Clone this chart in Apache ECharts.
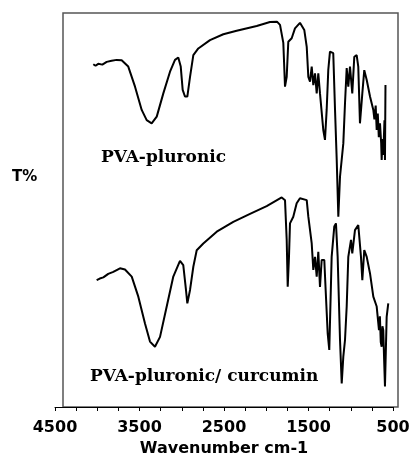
<!DOCTYPE html>
<html>
<head>
<meta charset="utf-8">
<script src="https://cdn.jsdelivr.net/npm/echarts@6/dist/echarts.min.js"></script>
<style>
html,body{margin:0;padding:0;background:#fff;}
#chart{width:419px;height:462px;}
</style>
</head>
<body>
<div id="chart"></div>
<script>
// Wavenumber (cm-1) and transmittance (%)
var wnTop = [4047,4020,3988,3940,3888,3830,3770,3711,3633,3553,3474,3415,3356,3296,3218,3139,3080,3041,3012,2989,2962,2934,2902,2863,2804,2666,2508,2350,2113,1956,1873,1837,1798,1778,1758,1739,1699,1660,1601,1550,1521,1502,1482,1462,1443,1423,1403,1384,1364,1325,1305,1285,1266,1246,1207,1186,1166,1147,1127,1088,1068,1048,1029,1009,982,958,930,911,891,863,840,811,772,733,720,705,693,680,668,654,640,634,625,615,601,595,589];
var tTop  = [87.0,86.6,87.1,86.9,87.6,87.9,88.1,88.0,86.4,81.3,75.4,72.8,72.0,73.7,79.6,85.1,88.1,88.7,86.4,80.5,78.8,78.8,83.8,89.3,91.0,93.1,94.6,95.5,96.7,97.7,97.8,97.0,92.4,81.3,83.8,92.7,93.6,96.1,97.5,95.7,91.4,83.8,82.6,86.4,81.7,84.7,79.6,84.7,79.6,70.3,67.8,75.4,85.5,90.2,89.8,75.4,62.7,48.3,58.5,66.9,77.1,86.0,81.3,86.4,79.6,88.9,89.3,86.4,72.0,79.6,85.5,83.0,78.8,75.4,73.0,76.5,70.3,74.5,68.5,72.0,67.0,62.7,68.0,64.0,72.8,62.7,81.7];

var wnBot = [4007,3970,3928,3870,3810,3731,3672,3592,3514,3435,3376,3317,3257,3178,3100,3021,2982,2950,2934,2902,2863,2823,2745,2586,2390,2192,1995,1817,1778,1758,1746,1731,1719,1680,1640,1601,1521,1502,1462,1443,1423,1403,1384,1364,1344,1313,1297,1273,1254,1226,1195,1175,1155,1127,1107,1088,1068,1048,1029,997,982,950,911,879,863,840,811,772,733,693,666,655,645,634,625,615,605,595,575,556];
var tBot  = [32.2,32.6,32.9,33.8,34.3,35.2,34.9,33.1,28.0,21.2,16.6,15.3,17.8,25.5,33.1,37.1,36.0,29.7,26.3,29.7,35.6,39.8,41.5,44.5,47.0,49.0,51.0,53.2,52.5,42.4,30.5,38.1,46.6,48.3,51.7,53.0,52.5,48.3,41.5,34.8,38.1,33.1,39.4,30.5,37.3,37.3,29.7,18.7,14.5,38.1,45.8,46.6,38.1,17.0,6.0,12.8,17.0,25.5,38.1,42.4,39.0,44.9,46.2,38.1,32.2,39.8,38.1,33.9,28.0,25.5,19.5,23.0,16.5,15.3,20.5,19.5,12.0,5.2,22.9,26.3];

var xTickLabels = [4500,3500,2500,1500,500];
var seriesNames = ['PVA-pluronic','PVA-pluronic/ curcumin'];

function zip(a,b){var r=[];for(var i=0;i<a.length;i++){r.push([a[i],b[i]]);}return r;}

var chart = echarts.init(document.getElementById('chart'), null, {renderer:'canvas'});
chart.setOption({
  animation:false,
  backgroundColor:'#fff',
  grid:{left:55, right:26, top:13, bottom:55},
  xAxis:{
    type:'value', inverse:true, min:500, max:4500, interval:250,
    name:'Wavenumber cm-1', nameLocation:'middle', nameGap:33,
    nameTextStyle:{fontFamily:'DejaVu Sans', fontWeight:'bold', fontSize:16, color:'#000'},
    axisLine:{show:true, lineStyle:{color:'#000', width:1}},
    axisTick:{show:true, length:4, lineStyle:{color:'#000', width:1}},
    splitLine:{show:false},
    axisLabel:{
      margin:13, color:'#000', fontFamily:'DejaVu Sans', fontWeight:'bold', fontSize:16,
      formatter:function(v){return xTickLabels.indexOf(v)>=0 ? String(v) : '';}
    }
  },
  yAxis:{
    type:'value', min:0, max:100, show:false
  },
  graphic:[
    {type:'rect', shape:{x:63, y:13, width:335, height:394}, style:{fill:'none', stroke:'#555', lineWidth:1.5}, z:-1},
    {type:'text', left:12, top:170, style:{text:'T%', fontFamily:'DejaVu Sans', fontWeight:'bold', fontSize:15, fill:'#000'}},
    {type:'text', left:101, top:149, style:{text:seriesNames[0], fontFamily:'DejaVu Serif', fontWeight:'bold', fontSize:17, fill:'#000'}},
    {type:'text', left:90, top:368, style:{text:seriesNames[1], fontFamily:'DejaVu Serif', fontWeight:'bold', fontSize:17, fill:'#000'}}
  ],
  series:[
    {name:seriesNames[0], type:'line', data:zip(wnTop,tTop), showSymbol:false, smooth:false,
     lineStyle:{color:'#000', width:2}},
    {name:seriesNames[1], type:'line', data:zip(wnBot,tBot), showSymbol:false, smooth:false,
     lineStyle:{color:'#000', width:2}}
  ]
});
</script>
</body>
</html>
